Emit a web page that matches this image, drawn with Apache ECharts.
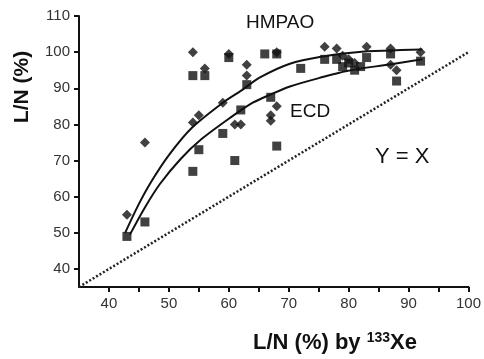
<!DOCTYPE html>
<html>
<head>
<meta charset="utf-8">
<script src="https://cdn.jsdelivr.net/npm/echarts@6/dist/echarts.min.js"></script>
<style>
  html, body { margin: 0; padding: 0; background: #fff; }
  #chart { width: 484px; height: 359px; }
</style>
</head>
<body>
<div id="chart"></div>
<script>
// tick labels
const xTicks = [40, 50, 60, 70, 80, 90, 100];
const xMinorTicks = [40, 45, 50, 55, 60, 65, 70, 75, 80, 85, 90, 95, 100];
const yTicks = [40, 50, 60, 70, 80, 90, 100, 110];

// HMPAO (diamonds)
const hmpaoPoints = [
  [43, 55], [46, 75], [54, 80.5], [55, 82.5], [59, 86], [54, 100], [56, 95.5],
  [60, 99.5], [63, 96.5], [63, 93.5], [61, 80], [62, 80], [68, 85], [67, 82.5],
  [67, 81], [68, 100], [76, 101.5], [78, 101], [79, 99], [80, 98], [81, 97],
  [83, 101.5], [87, 101], [87, 96.5], [88, 95], [92, 100]
];
// ECD (squares)
const ecdPoints = [
  [43, 49], [46, 53], [54, 67], [55, 73], [54, 93.5], [56, 93.5], [59, 77.5],
  [60, 98.5], [61, 70], [62, 84], [63, 91], [66, 99.5], [68, 99.5], [67, 87.5],
  [68, 74], [72, 95.5], [76, 98], [78, 98], [79, 96], [80, 97], [81, 95],
  [82, 96], [83, 98.5], [87, 99.5], [88, 92], [92, 97.5]
];
// fitted curves
const hmpaoCurve = [
  [42.7, 50], [45, 58], [47, 64], [50, 71.5], [53.8, 79], [59, 86], [62.2, 89.5],
  [65.2, 93], [70.2, 96.8], [75.7, 98.8], [81.3, 100], [92.3, 100.7]
];
const ecdCurve = [
  [43.5, 49.5], [46, 57], [48.5, 63.5], [52, 70.5], [55.5, 76], [60.2, 81.8],
  [64, 86], [67, 88.3], [70.2, 90.5], [75, 92.8], [79.7, 94.8], [86.8, 96.6],
  [92.3, 98]
];
const identityLine = [[35, 35], [100, 100]];

const font = 'Liberation Sans, Arial, sans-serif';
const chart = echarts.init(document.getElementById('chart'), null, { renderer: 'canvas' });

chart.setOption({
  backgroundColor: '#fff',
  animation: false,
  grid: { left: 79, right: 15, top: 16, bottom: 72 },
  xAxis: {
    type: 'value',
    min: 35,
    max: 100,
    axisLine: { onZero: false, lineStyle: { color: '#111', width: 2 } },
    axisTick: { show: true, customValues: xMinorTicks, length: 5, lineStyle: { color: '#111', width: 2 } },
    axisLabel: { customValues: xTicks, color: '#333', fontFamily: font, fontSize: 15, margin: 9 },
    splitLine: { show: false }
  },
  yAxis: {
    type: 'value',
    min: 35,
    max: 110,
    axisLine: { onZero: false, lineStyle: { color: '#111', width: 2 } },
    axisTick: { show: true, customValues: yTicks, length: 5, lineStyle: { color: '#111', width: 2 } },
    axisLabel: { customValues: yTicks, color: '#333', fontFamily: font, fontSize: 15, margin: 9 },
    splitLine: { show: false }
  },
  series: [
    {
      name: 'Y = X',
      type: 'line',
      data: identityLine,
      symbol: 'none',
      silent: true,
      lineStyle: { color: '#222', width: 2.5, type: [2, 2] }
    },
    {
      name: 'HMPAO fit',
      type: 'line',
      data: hmpaoCurve,
      smooth: 0.3,
      symbol: 'none',
      lineStyle: { color: '#111', width: 2 }
    },
    {
      name: 'ECD fit',
      type: 'line',
      data: ecdCurve,
      smooth: 0.3,
      symbol: 'none',
      lineStyle: { color: '#111', width: 2 }
    },
    {
      name: 'HMPAO',
      type: 'scatter',
      data: hmpaoPoints,
      symbol: 'diamond',
      symbolSize: 10,
      itemStyle: { color: '#111' }
    },
    {
      name: 'ECD',
      type: 'scatter',
      data: ecdPoints,
      symbol: 'rect',
      symbolSize: 9,
      itemStyle: { color: '#111' }
    }
  ],
  graphic: [
    { type: 'text', left: 246, top: 13, style: { text: 'HMPAO', fontFamily: font, fontSize: 19, fill: '#111' } },
    { type: 'text', left: 290, top: 102, style: { text: 'ECD', fontFamily: font, fontSize: 19, fill: '#111' } },
    { type: 'text', left: 375, top: 146, style: { text: 'Y = X', fontFamily: font, fontSize: 22, fill: '#111' } },
    {
      type: 'text', x: 22, y: 87, rotation: Math.PI / 2,
      style: {
        text: 'L/N (%)', fontFamily: font, fontSize: 21, fontWeight: 'bold', fill: '#111',
        align: 'center', verticalAlign: 'middle'
      }
    },
    {
      type: 'text', x: 335, y: 343,
      style: {
        text: '{a|L/N (%) by }{s|133}{a|Xe}',
        align: 'center', verticalAlign: 'middle',
        rich: {
          a: { fontFamily: font, fontSize: 22, fontWeight: 'bold', fill: '#111', color: '#111' },
          s: { fontFamily: font, fontSize: 14, fontWeight: 'bold', fill: '#111', color: '#111', padding: [0, 0, 9, 0] }
        }
      }
    }
  ]
});
</script>
</body>
</html>
